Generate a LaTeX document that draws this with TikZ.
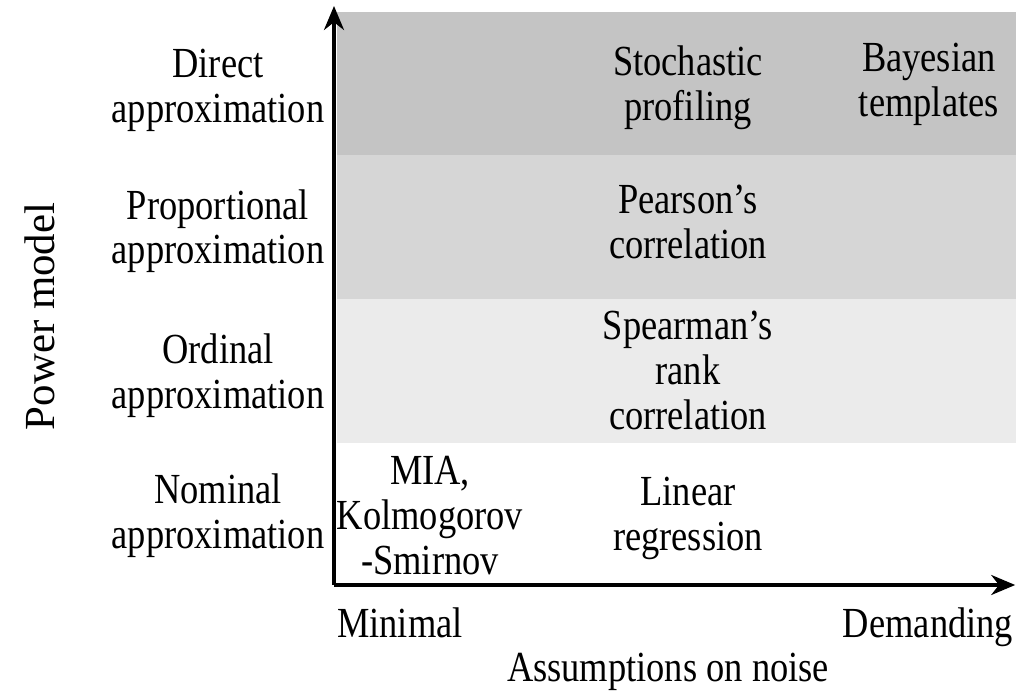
\documentclass[tikz,border=0pt]{standalone}
\usepackage{fontspec}
\setmainfont{Liberation Serif}
\newfontfamily\narrowserif[FakeStretch=0.85]{Liberation Serif}
\usetikzlibrary{arrows.meta}
\definecolor{bandA}{RGB}{196,196,196}
\definecolor{bandB}{RGB}{214,214,214}
\definecolor{bandC}{RGB}{235,235,235}
\begin{document}
\begin{tikzpicture}[>={Stealth[length=6mm,width=5mm]},
    lbl/.style={align=center, font=\narrowserif\fontsize{30.5}{32}\selectfont, inner sep=0pt}]

        \useasboundingbox (0,0) rectangle (25.4,17.35);

        % Shaded bands for the model levels
        \fill[bandA] (8.425,13.475) rectangle (25.4,17.05);
        \fill[bandB] (8.425,9.875) rectangle (25.4,13.475);
        \fill[bandC] (8.425,6.275) rectangle (25.4,9.875);

        % Define the axis end points
        \coordinate (O) at (8.35,2.725);
        \coordinate (Ytop) at (8.35,17.2);
        \coordinate (Xend) at (25.38,2.725);

        % Define nodes in the first column (row labels)
        \node[lbl] (L1) at (5.45,15.1) {Direct\\approximation};
        \node[lbl] (L2) at (5.45,11.57) {Proportional\\approximation};
        \node[lbl] (L3) at (5.45,7.95) {Ordinal\\approximation};
        \node[lbl] (L4) at (5.45,4.45) {Nominal\\approximation};

        % Define nodes inside the plot
        \node[lbl] (D1) at (17.2,15.15) {Stochastic\\profiling};
        \node[lbl] (D2) at (23.22,15.25) {Bayesian\\templates};
        \node[lbl] (P1) at (17.2,11.81) {Pearson’s\\correlation};
        \node[lbl] (S1) at (17.2,8.08) {Spearman’s\\rank\\correlation};
        \node[lbl] (N1) at (17.2,4.38) {Linear\\regression};
        \node[lbl] (N2) at (10.75,4.45) {MIA,\\Kolmogorov\\-Smirnov};

        % Define the axis labels
        \node[inner sep=0pt, font=\fontsize{30.5}{32}\selectfont, rotate=90] (Ylab) at (1.0,9.44) {Power model};
        \node[lbl, anchor=base] (Xmin) at (10.0,1.4) {Minimal};
        \node[lbl, anchor=base] (Xmax) at (23.2,1.4) {Demanding};
        \node[lbl, anchor=base] (Xlab) at (16.7,0.3) {Assumptions on noise};

        % Draw the axes
        \draw[->, line width=2.6pt] (O) -- (Ytop);
        \draw[->, line width=2.6pt] (O) -- (Xend);

\end{tikzpicture}
\end{document}
